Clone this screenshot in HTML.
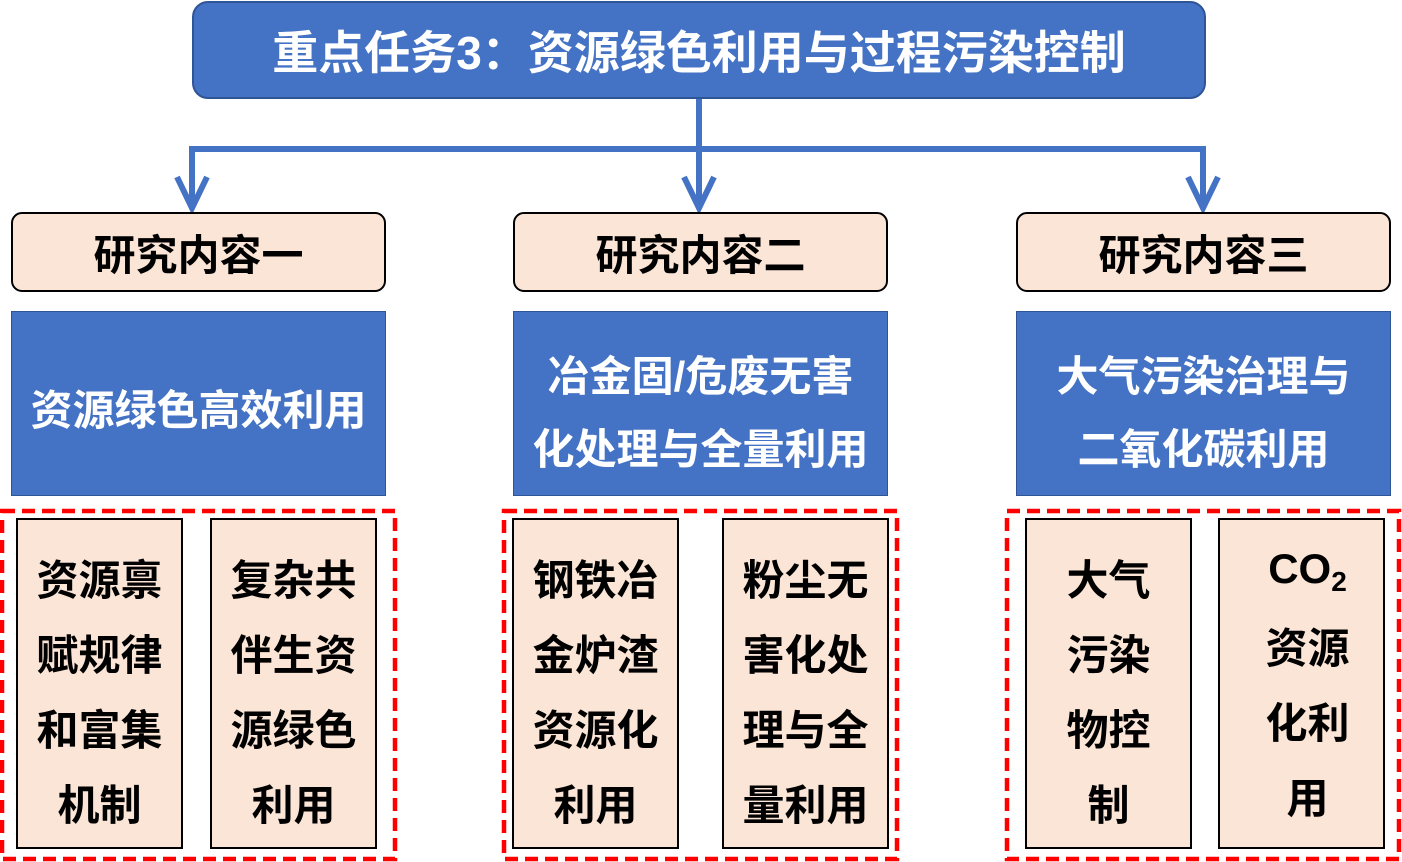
<!DOCTYPE html>
<html><head><meta charset="utf-8"><style>
body{margin:0;width:1402px;height:862px;background:#fff;position:relative;overflow:hidden;font-family:"Liberation Sans","Noto Sans CJK SC",sans-serif;font-weight:bold}
.a{position:absolute;box-sizing:border-box;display:flex;align-items:center;justify-content:center;text-align:center}
.a>div{width:100%}
.hd{left:192px;top:1px;width:1014px;height:98px;background:#4472C4;border:2px solid #2F5597;border-radius:16px;color:#fff;font-size:46px}
.rc{top:212px;height:80px;width:375px;background:#FBE5D6;border:2px solid #000;border-radius:11px;font-size:42px;color:#000}
.bl{top:311px;height:185px;width:375px;background:#4472C4;border:1.5px solid #2F5597;color:#fff;font-size:42px;line-height:73px;padding-top:18px}
.in{top:518px;height:331px;width:167px;background:#FBE5D6;border:2px solid #000;font-size:42px;line-height:75px;color:#000;padding-top:18px}
</style></head><body>
<div class="a hd"><div>重点任务3：资源绿色利用与过程污染控制</div></div>
<svg width="1402" height="862" style="position:absolute;left:0;top:0">
<g stroke="#4472C4" stroke-width="6" fill="none">
<line x1="699" y1="99" x2="699" y2="208"/>
<line x1="189" y1="149" x2="1206" y2="149"/>
<line x1="192" y1="149" x2="192" y2="208"/>
<line x1="1203" y1="149" x2="1203" y2="208"/>
<polyline points="177,177 192,208 207,177"/>
<polyline points="684,177 699,208 714,177"/>
<polyline points="1188,177 1203,208 1218,177"/>
</g>
<g stroke="#f00" stroke-width="4.5" fill="none" stroke-dasharray="13,7">
<rect x="2" y="511" width="393" height="348"/>
<rect x="504" y="511" width="393" height="348"/>
<rect x="1007" y="511" width="392" height="348"/>
</g></svg>
<div class="a rc" style="left:11px"><div>研究内容一</div></div>
<div class="a rc" style="left:513px"><div>研究内容二</div></div>
<div class="a rc" style="left:1016px"><div>研究内容三</div></div>
<div class="a bl" style="left:11px;padding-top:14px"><div>资源绿色高效利用</div></div>
<div class="a bl" style="left:513px"><div>冶金固/危废无害<br>化处理与全量利用</div></div>
<div class="a bl" style="left:1016px"><div>大气污染治理与<br>二氧化碳利用</div></div>
<div class="a in" style="left:16px"><div>资源禀<br>赋规律<br>和富集<br>机制</div></div>
<div class="a in" style="left:210px"><div>复杂共<br>伴生资<br>源绿色<br>利用</div></div>
<div class="a in" style="left:512px"><div>钢铁冶<br>金炉渣<br>资源化<br>利用</div></div>
<div class="a in" style="left:722px"><div>粉尘无<br>害化处<br>理与全<br>量利用</div></div>
<div class="a in" style="left:1025px"><div>大气<br>污染<br>物控<br>制</div></div>
<div class="a in" style="left:1218px;padding-top:0;padding-left:12px"><div>CO<span style="font-size:28px;position:relative;top:8px">2</span><br>资源<br>化利<br>用</div></div>
</body></html>
